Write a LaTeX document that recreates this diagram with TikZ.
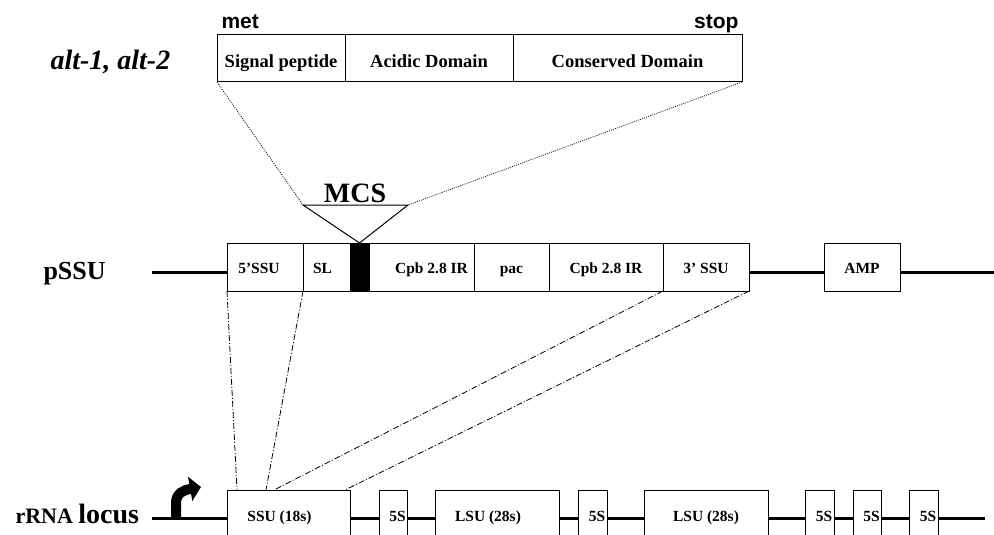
\documentclass[tikz,border=0pt]{standalone}
\usepackage{fontspec}
\setmainfont{Liberation Serif}
\newfontfamily\hv{Liberation Sans}
\usetikzlibrary{arrows.meta,calc}
\begin{document}
\begin{tikzpicture}[x=1pt,y=-1pt,
    box/.style={draw,line width=1pt,inner sep=0pt,outer sep=0pt},
    dom/.style={box,minimum height=47pt,text height=19pt,text depth=0pt,
      font=\fontsize{18.5}{20}\selectfont\bfseries},
    part/.style={box,minimum height=48pt,text height=13pt,text depth=0pt,
      font=\fontsize{15.5}{17}\selectfont\bfseries},
    gene/.style={box,minimum height=56pt,text height=6pt,text depth=0pt,
      font=\fontsize{15.5}{17}\selectfont\bfseries},
    dna/.style={line width=3pt},
    zoomline/.style={line width=0.7pt,dash pattern=on 1pt off 1.2pt},
    homol/.style={line width=0.8pt,dash pattern=on 6pt off 2pt on 1pt off 2pt}]
  \useasboundingbox (0,0) rectangle (994,535);
  \clip (0,0) rectangle (994,535);
  % protein
  \node[dom,minimum width=128pt] (sig) at (281,58.5) {Signal peptide};
  \node[dom,minimum width=168pt] (acid) at (429,58.5) {Acidic Domain};
  \node[dom,minimum width=229pt] (cons) at (627.5,58.5) {Conserved Domain};
  \node[anchor=base west,font=\hv\fontsize{21}{22}\selectfont\bfseries] (met) at (218,29) {met};
  \node[anchor=base east,font=\hv\fontsize{21}{22}\selectfont\bfseries] (stop) at (742,29) {stop};
  \node[anchor=base west,font=\fontsize{28}{30}\selectfont\bfseries\itshape] (alt) at (47,70) {alt-1, alt-2};
  % pSSU
  \node[anchor=base west,font=\fontsize{26}{28}\selectfont\bfseries] (pssu) at (40,279) {pSSU};
  \node[part,minimum width=76pt] (ssu5) at (265,267) {\hspace*{-12pt}5’SSU};
  \node[part,minimum width=47pt] (sl) at (326.5,267) {\hspace*{-8pt}SL};
  \node[box,fill=black,minimum width=19pt,minimum height=48pt] (blk) at (359.5,267) {};
  \node[part,minimum width=105pt] (cpb1) at (421.5,267) {\hspace*{20pt}Cpb 2.8 IR};
  \node[part,minimum width=75pt] (pac) at (511.5,267) {pac};
  \node[part,minimum width=114pt] (cpb2) at (606,267) {Cpb 2.8 IR};
  \node[part,minimum width=86pt] (ssu3) at (706,267) {3’ SSU};
  \node[part,minimum width=76pt] (amp) at (862,267) {AMP};
  \coordinate (pl) at (152,272);
  \coordinate (pr) at (994,272);
  \draw[dna] (pl) -- (pl -| ssu5.west);
  \draw[dna] (pl -| ssu3.east) -- (pl -| amp.west);
  \draw[dna] (pl -| amp.east) -- (pr);
  % MCS
  \node[anchor=base,font=\fontsize{28}{30}\selectfont\bfseries] (mcs) at (355,202) {MCS};
  \coordinate (mcsl) at (303,205);
  \coordinate (mcsr) at (408,205);
  \draw[line width=1pt] (mcsl) -- (mcsr) -- (blk.north) -- cycle;
  \draw[zoomline] (sig.south west) -- (mcsl);
  \draw[zoomline] (cons.south east) -- (mcsr);
  % rRNA locus
  \node[anchor=base west,font=\bfseries] (locus) at (12,523)
    {\fontsize{22}{24}\selectfont rRNA \fontsize{28}{30}\selectfont locus};
  \node[gene,minimum width=123pt] (ssu18) at (288.5,518) {\hspace*{-18pt}SSU (18s)};
  \node[gene,minimum width=28pt] (s5a) at (393,518) {\hspace*{9pt}5S};
  \node[gene,minimum width=124pt] (lsu1) at (497,518) {\hspace*{-18pt}LSU (28s)};
  \node[gene,minimum width=29pt] (s5b) at (592.5,518) {\hspace*{9pt}5S};
  \node[gene,minimum width=124pt] (lsu2) at (706,518) {LSU (28s)};
  \node[gene,minimum width=29pt] (s5c) at (819.5,518) {\hspace*{9pt}5S};
  \node[gene,minimum width=28pt] (s5d) at (867,518) {\hspace*{9pt}5S};
  \node[gene,minimum width=29pt] (s5e) at (923.5,518) {\hspace*{9pt}5S};
  \coordinate (rl) at (152,518);
  \coordinate (rr) at (985,518);
  \draw[dna] (rl) -- (ssu18.west);
  \draw[dna] (ssu18.east) -- (s5a.west);
  \draw[dna] (s5a.east) -- (lsu1.west);
  \draw[dna] (lsu1.east) -- (s5b.west);
  \draw[dna] (s5b.east) -- (lsu2.west);
  \draw[dna] (lsu2.east) -- (s5c.west);
  \draw[dna] (s5c.east) -- (s5d.west);
  \draw[dna] (s5d.east) -- (s5e.west);
  \draw[dna] (s5e.east) -- (rr);
  % promoter
  \draw[line width=10pt,-{Triangle[length=11pt,width=24pt]}]
    (176,519) -- (176,503) .. controls (176,493) and (184,490) .. (201,487);
  % homology arms
  \draw[homol] (ssu5.south west) -- ([xshift=10pt]ssu18.north west);
  \draw[homol] (sl.south west) -- ([xshift=39pt]ssu18.north west);
  \draw[homol] (ssu3.south west) -- ([xshift=47pt]ssu18.north west);
  \draw[homol] (ssu3.south east) -- ([xshift=118pt]ssu18.north west);
\end{tikzpicture}
\end{document}
